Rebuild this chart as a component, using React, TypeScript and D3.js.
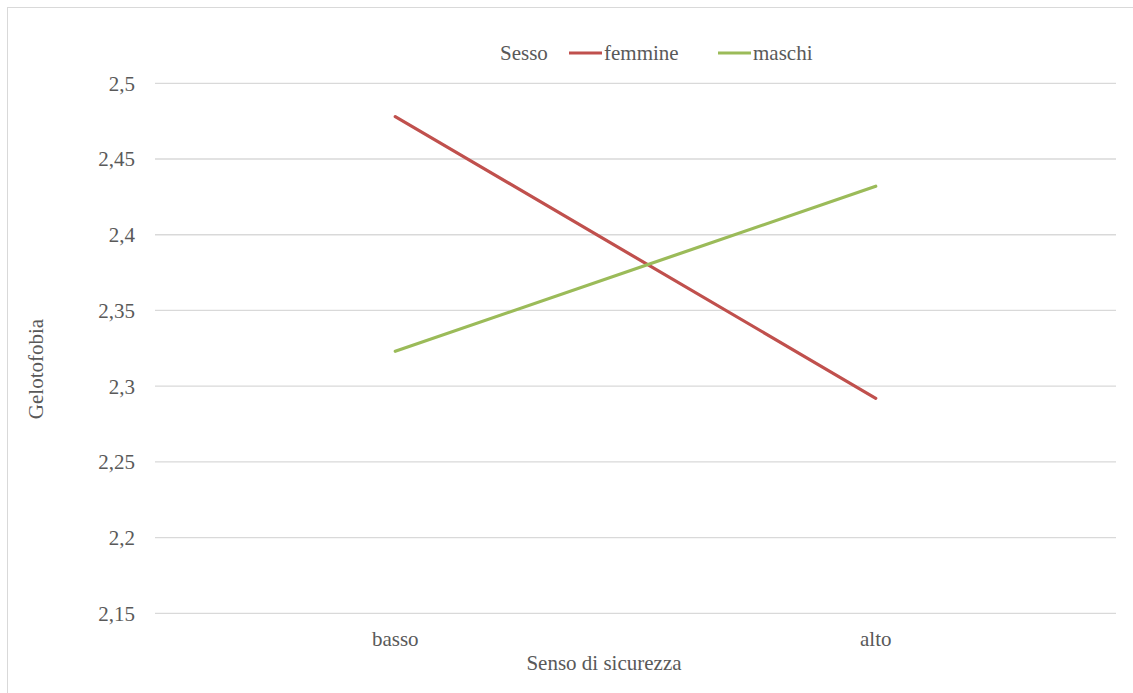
import React, { useRef, useEffect } from 'react';
import * as d3 from 'd3';

const categories = ['basso', 'alto'];
const femmine = [2.478, 2.292];
const maschi = [2.323, 2.432];
const yTicks = [2.15, 2.2, 2.25, 2.3, 2.35, 2.4, 2.45, 2.5];

const series = [
  { name: 'femmine', values: femmine, color: '#C0504D' },
  { name: 'maschi', values: maschi, color: '#9BBB59' },
];

const W = 1133;
const H = 693;
const FONT = "'Liberation Serif', 'Times New Roman', Tinos, 'DejaVu Serif', serif";
const TEXT = '#595959';

const App = () => {
  const ref = useRef<SVGSVGElement>(null);

  useEffect(() => {
    const svg = d3.select(ref.current);
    svg.selectAll('*').remove();

    const margin = { left: 155, right: W - 1116, top: 83.3, bottom: H - 613.3 };

    const x = d3.scaleBand()
      .domain(categories)
      .range([margin.left, W - margin.right]);

    const y = d3.scaleLinear()
      .domain([2.15, 2.5])
      .range([H - margin.bottom, margin.top]);

    // chart border
    svg.append('rect')
      .attr('x', 7.5).attr('y', 7.5)
      .attr('width', W + 20).attr('height', H + 20)
      .attr('fill', 'white')
      .attr('stroke', '#D9D9D9')
      .attr('stroke-width', 1);

    // gridlines
    svg.append('g')
      .selectAll('line')
      .data(yTicks)
      .join('line')
      .attr('x1', margin.left)
      .attr('x2', W - margin.right)
      .attr('y1', d => y(d))
      .attr('y2', d => y(d))
      .attr('stroke', '#D9D9D9')
      .attr('stroke-width', 1.3);

    const txt = (sel: any) => sel
      .style('font-family', FONT)
      .style('font-size', '21px')
      .attr('fill', TEXT);

    // y tick labels
    svg.append('g')
      .selectAll('text')
      .data(yTicks)
      .join('text')
      .attr('x', 135)
      .attr('y', d => y(d))
      .attr('dy', '0.35em')
      .attr('text-anchor', 'end')
      .call(txt)
      .text(d => d3.format('')(d).replace('.', ','));

    // x tick labels
    svg.append('g')
      .selectAll('text')
      .data(categories)
      .join('text')
      .attr('x', d => (x(d) as number) + x.bandwidth() / 2)
      .attr('y', 646)
      .attr('text-anchor', 'middle')
      .call(txt)
      .text(d => d);

    // axis titles
    svg.append('text')
      .attr('x', 604)
      .attr('y', 670)
      .attr('text-anchor', 'middle')
      .call(txt)
      .text('Senso di sicurezza');

    svg.append('text')
      .attr('transform', 'translate(43,369) rotate(-90)')
      .attr('text-anchor', 'middle')
      .call(txt)
      .text('Gelotofobia');

    // lines
    const line = d3.line<number>()
      .x((d, i) => (x(categories[i]) as number) + x.bandwidth() / 2)
      .y(d => y(d));

    svg.append('g')
      .selectAll('path')
      .data(series)
      .join('path')
      .attr('d', d => line(d.values))
      .attr('fill', 'none')
      .attr('stroke', d => d.color)
      .attr('stroke-width', 3.2)
      .attr('stroke-linecap', 'round');

    // legend
    const legend = svg.append('g');
    legend.append('text').attr('x', 500).attr('y', 53).attr('dy', '0.35em').call(txt).text('Sesso');
    const items = [
      { s: series[0], x0: 569 },
      { s: series[1], x0: 718 },
    ];
    items.forEach(({ s, x0 }) => {
      legend.append('line')
        .attr('x1', x0).attr('x2', x0 + 33)
        .attr('y1', 53).attr('y2', 53)
        .attr('stroke', s.color)
        .attr('stroke-width', 3.2);
      legend.append('text')
        .attr('x', x0 + 35).attr('y', 53).attr('dy', '0.35em')
        .call(txt)
        .text(s.name);
    });

    return () => {
      svg.selectAll('*').remove();
    };
  }, []);

  return (
    <svg
      ref={ref}
      width={W}
      height={H}
      style={{ position: 'absolute', left: 0, top: 0, background: 'white' }}
    />
  );
};

export default App;
